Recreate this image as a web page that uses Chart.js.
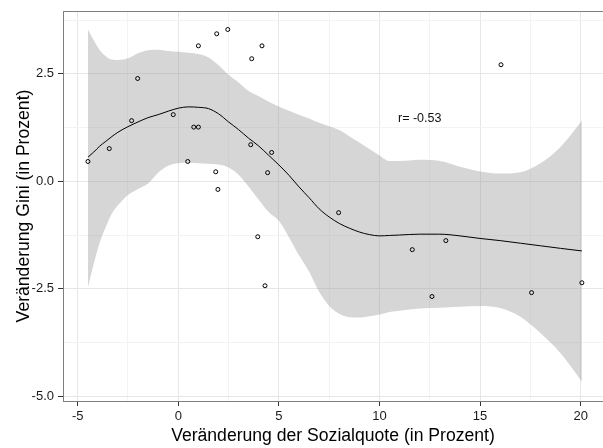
<!DOCTYPE html>
<html>
<head>
<meta charset="utf-8">
<script src="https://cdn.jsdelivr.net/npm/chart.js@4"></script>
<style>
  html, body { margin: 0; padding: 0; background: #fff; overflow: hidden; }
  #wrap { width: 603px; height: 448px; }
  canvas { display: block; }
</style>
</head>
<body>
<div id="wrap"><canvas id="giniChart"></canvas></div>
<script>
// Scatter points: change of social spending ratio vs. change of Gini
const pointX = [-4.49, -3.43, -2.32, -2.02, -0.25, 0.47, 0.77, 1.0, 1.0, 1.91, 2.46, 1.86, 1.97, 3.65, 4.16, 3.6, 4.64, 4.44, 3.95, 4.31, 16.04, 7.97, 11.63, 13.3, 12.61, 17.56, 20.06];
const pointY = [0.46, 0.76, 1.41, 2.39, 1.55, 0.46, 1.26, 1.26, 3.15, 3.43, 3.53, 0.22, -0.19, 2.85, 3.15, 0.85, 0.67, 0.2, -1.29, -2.43, 2.71, -0.73, -1.59, -1.38, -2.68, -2.59, -2.36];

// Loess fit and its confidence band
const bandX     = [-4.49, -4.2, -3.9, -3.6, -3.3, -3.0, -2.5, -2.0, -1.5, -1.0, -0.5, 0, 0.5, 1.0, 1.5, 2.0, 2.5, 3.0, 3.5, 4.0, 4.5, 5.0, 5.5, 6.0, 6.5, 7.0, 7.5, 8.0, 8.5, 9.0, 9.5, 10, 10.5, 11, 12, 13, 14, 15, 16, 17, 18, 19, 20.06];
const fitY      = [0.56, 0.68, 0.82, 0.93, 1.04, 1.14, 1.27, 1.38, 1.48, 1.55, 1.63, 1.70, 1.73, 1.72, 1.69, 1.57, 1.38, 1.2, 1.0, 0.82, 0.6, 0.38, 0.14, -0.13, -0.38, -0.64, -0.83, -0.98, -1.09, -1.18, -1.24, -1.27, -1.26, -1.25, -1.23, -1.23, -1.27, -1.33, -1.38, -1.44, -1.5, -1.56, -1.62];
const bandUpper = [3.53, 3.28, 3.05, 2.91, 2.83, 2.82, 2.86, 2.98, 3.05, 3.06, 3.03, 3.01, 2.99, 2.96, 2.88, 2.7, 2.48, 2.3, 2.1, 1.98, 1.85, 1.74, 1.64, 1.55, 1.46, 1.36, 1.28, 1.19, 1.05, 0.9, 0.75, 0.6, 0.47, 0.47, 0.5, 0.47, 0.34, 0.23, 0.18, 0.21, 0.42, 0.8, 1.41];
const bandLower = [-2.47, -1.92, -1.42, -1.06, -0.75, -0.56, -0.32, -0.18, -0.05, 0.2, 0.36, 0.42, 0.43, 0.42, 0.41, 0.39, 0.32, 0.15, -0.13, -0.43, -0.72, -0.92, -1.3, -1.72, -2.1, -2.57, -2.9, -3.08, -3.16, -3.17, -3.14, -3.1, -3.04, -3.01, -2.96, -2.94, -2.92, -2.9, -2.95, -3.15, -3.53, -4.0, -4.66];

// Axis ticks
const xMajor = [-5, 0, 5, 10, 15, 20];
const xMinor = [-2.5, 2.5, 7.5, 12.5, 17.5];
const yMajor = [-5, -2.5, 0, 2.5];
const yMinor = [-3.75, -1.25, 1.25, 3.75];

const corrLabel = "r= -0.53";
const corrPos = { x: 12.0, y: 1.47 };

const toXY = (xs, ys) => xs.map((x, i) => ({ x: x, y: ys[i] }));
const isMajor = (list, v) => list.some(m => Math.abs(m - v) < 1e-6);

const panelBorder = {
    id: "panelBorder",
    afterDraw(chart) {
        const { ctx, chartArea } = chart;
        ctx.save();
        ctx.strokeStyle = "#7f7f7f";
        ctx.lineWidth = 1;
        ctx.strokeRect(Math.round(chartArea.left) + 0.5, Math.round(chartArea.top) + 0.5,
            Math.round(chartArea.right - chartArea.left), Math.round(chartArea.bottom - chartArea.top));
        // correlation label
        const xs = chart.scales.x, ys = chart.scales.y;
        ctx.fillStyle = "#111";
        ctx.font = "12.5px 'Liberation Sans', Arial, sans-serif";
        ctx.textAlign = "center";
        ctx.textBaseline = "middle";
        ctx.fillText(corrLabel, xs.getPixelForValue(corrPos.x), ys.getPixelForValue(corrPos.y));
        ctx.restore();
    }
};

const gridColor = (major) => (c) => isMajor(major, c.tick.value) ? "#e6e6e6" : "#f3f3f3";
const tickColor = (major) => (c) => isMajor(major, c.tick.value) ? "#333" : "rgba(0,0,0,0)";

new Chart("giniChart", {
    type: "line",
    data: {
        datasets: [
            {
                data: toXY(pointX, pointY),
                showLine: false,
                pointRadius: 2,
                pointBorderWidth: 1,
                pointBorderColor: "#000",
                pointBackgroundColor: "rgba(0,0,0,0)",
                order: 0
            },
            {
                data: toXY(bandX, fitY),
                borderColor: "#000",
                borderWidth: 1,
                pointRadius: 0,
                cubicInterpolationMode: "monotone",
                fill: false,
                order: 1
            },
            {
                data: toXY(bandX, bandUpper),
                borderWidth: 0,
                borderColor: "rgba(0,0,0,0)",
                pointRadius: 0,
                cubicInterpolationMode: "monotone",
                fill: "+1",
                backgroundColor: "rgba(153,153,153,0.4)",
                order: 2
            },
            {
                data: toXY(bandX, bandLower),
                borderWidth: 0,
                borderColor: "rgba(0,0,0,0)",
                pointRadius: 0,
                cubicInterpolationMode: "monotone",
                fill: false,
                order: 3
            }
        ]
    },
    options: {
        responsive: true,
        maintainAspectRatio: false,
        devicePixelRatio: 1,
        animation: false,
        layout: { autoPadding: false, padding: { top: 11, right: 0, left: 0, bottom: 0 } },
        plugins: { legend: { display: false }, tooltip: { enabled: false } },
        scales: {
            x: {
                type: "linear",
                min: -5.73,
                max: 21.11,
                afterBuildTicks: s => { s.ticks = xMajor.concat(xMinor).sort((a, b) => a - b).map(v => ({ value: v })); },
                afterFit: s => { s.height = 47; s.paddingLeft = 0; s.paddingRight = 0; },
                ticks: {
                    autoSkip: false,
                    maxRotation: 0,
                    padding: 3,
                    color: "#1a1a1a",
                    font: { family: "'Liberation Sans', Arial, sans-serif", size: 13 },
                    callback: v => isMajor(xMajor, v) ? String(v) : ""
                },
                grid: { color: gridColor(xMajor), tickColor: tickColor(xMajor), tickLength: 5, lineWidth: 1 },
                border: { display: false },
                title: {
                    display: true,
                    text: "Veränderung der Sozialquote (in Prozent)",
                    color: "#000",
                    font: { family: "'Liberation Sans', Arial, sans-serif", size: 17.6 },
                    padding: { top: 0, bottom: 1 }
                }
            },
            y: {
                type: "linear",
                min: -5.11,
                max: 3.96,
                afterBuildTicks: s => { s.ticks = yMajor.concat(yMinor).sort((a, b) => a - b).map(v => ({ value: v })); },
                afterFit: s => { s.width = 63; s.paddingTop = 0; s.paddingBottom = 0; },
                ticks: {
                    autoSkip: false,
                    padding: 4,
                    color: "#1a1a1a",
                    font: { family: "'Liberation Sans', Arial, sans-serif", size: 13 },
                    callback: v => isMajor(yMajor, v) ? v.toFixed(1) : ""
                },
                grid: { color: gridColor(yMajor), tickColor: tickColor(yMajor), tickLength: 5, lineWidth: 1 },
                border: { display: false },
                title: {
                    display: true,
                    text: "Veränderung Gini (in Prozent)",
                    color: "#000",
                    font: { family: "'Liberation Sans', Arial, sans-serif", size: 17.6 },
                    padding: { top: 14, bottom: 0 }
                }
            }
        }
    },
    plugins: [panelBorder]
});
</script>
</body>
</html>
